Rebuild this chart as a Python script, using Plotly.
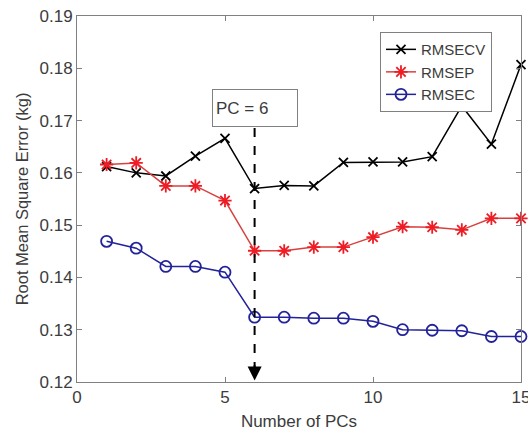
import plotly.graph_objects as go

pcs = list(range(1, 16))
rmsecv = [0.1612, 0.1600, 0.1594, 0.1632, 0.1666, 0.1570, 0.1576, 0.1575, 0.1620, 0.1621, 0.1621, 0.1631, 0.1728, 0.1655, 0.1807]
rmsep = [0.1616, 0.1619, 0.1575, 0.1575, 0.1547, 0.1451, 0.1451, 0.1458, 0.1458, 0.1477, 0.1497, 0.1496, 0.1491, 0.1513, 0.1513]
rmsec = [0.1469, 0.1456, 0.1421, 0.1421, 0.1410, 0.1324, 0.1324, 0.1322, 0.1322, 0.1316, 0.1300, 0.1299, 0.1298, 0.1287, 0.1287]
x_ticks = [0, 5, 10, 15]
y_ticks = [0.12, 0.13, 0.14, 0.15, 0.16, 0.17, 0.18, 0.19]
pc_selected = 6
label_text = "PC = 6"
label_y = 0.1724
label_bottom = 0.16857

FONT = "Liberation Sans, Arial, sans-serif"
TXT = "#3c3c3c"
AX = "#808080"

fig = go.Figure()
fig.add_trace(go.Scatter(
    x=pcs, y=rmsecv, name="RMSECV", mode="lines+markers", cliponaxis=False,
    line=dict(color="black", width=1.5),
    marker=dict(symbol="x-thin-open", size=9, color="black", line=dict(width=1.8, color="black")),
))
fig.add_trace(go.Scatter(
    x=pcs, y=rmsep, name="RMSEP", mode="lines+markers", cliponaxis=False,
    line=dict(color="#d8403f", width=1.5),
    marker=dict(symbol="asterisk-open", size=11, color="#ee1c24", line=dict(width=1.8, color="#ee1c24")),
))
fig.add_trace(go.Scatter(
    x=pcs, y=rmsec, name="RMSEC", mode="lines+markers", cliponaxis=False,
    line=dict(color="#22229a", width=1.5),
    marker=dict(symbol="circle-open", size=11, color="#22229a", line=dict(width=1.8, color="#22229a")),
))

# dashed indicator line
fig.add_shape(type="line", x0=pc_selected, x1=pc_selected, y0=label_bottom, y1=0.1225,
              xref="x", yref="y", line=dict(color="black", width=2, dash="dash"))
# arrowhead
fig.add_annotation(x=pc_selected, y=0.1203, ax=pc_selected, ay=0.1235, xref="x", yref="y",
                   axref="x", ayref="y", text="", showarrow=True, arrowhead=2,
                   arrowsize=1.4, arrowwidth=2, arrowcolor="black")
# label box
fig.add_annotation(x=pc_selected, y=label_y, xref="x", yref="y", text=label_text,
                   showarrow=False, font=dict(family=FONT, size=17, color=TXT),
                   bordercolor=AX, borderwidth=1, bgcolor="white",
                   width=78, height=30, align="left", borderpad=3)

axis_common = dict(showline=True, linecolor=AX, linewidth=1, mirror="ticks",
                   ticks="inside", tickcolor=AX, ticklen=5, showgrid=False, zeroline=False,
                   ticklabeloverflow="allow", automargin=False,
                   tickfont=dict(family=FONT, size=17, color=TXT))

fig.update_xaxes(range=[0, 15], tickvals=x_ticks, ticktext=[str(v) for v in x_ticks],
                 title=dict(text="Number of PCs", font=dict(family=FONT, size=17, color=TXT), standoff=8),
                 **axis_common)
fig.update_yaxes(range=[0.12, 0.19], tickvals=y_ticks, ticktext=[f"{v:.2f}" for v in y_ticks],
                 title=dict(text="Root Mean Square Error (kg)", font=dict(family=FONT, size=16.5, color=TXT), standoff=6),
                 **axis_common)

fig.update_layout(
    width=528, height=439,
    margin=dict(l=77, r=7, t=16, b=57),
    plot_bgcolor="white", paper_bgcolor="white",
    font=dict(family=FONT, color=TXT),
    legend=dict(x=0.6824, y=0.956, xanchor="left", yanchor="top",
                bgcolor="white", bordercolor=AX, borderwidth=1,
                font=dict(family=FONT, size=15, color=TXT),
                itemwidth=30, tracegroupgap=0),
    showlegend=True,
)

fig.write_html("out.html", config={"displayModeBar": False},
               post_script="document.body.style.margin='0';document.body.style.overflow='hidden';")
